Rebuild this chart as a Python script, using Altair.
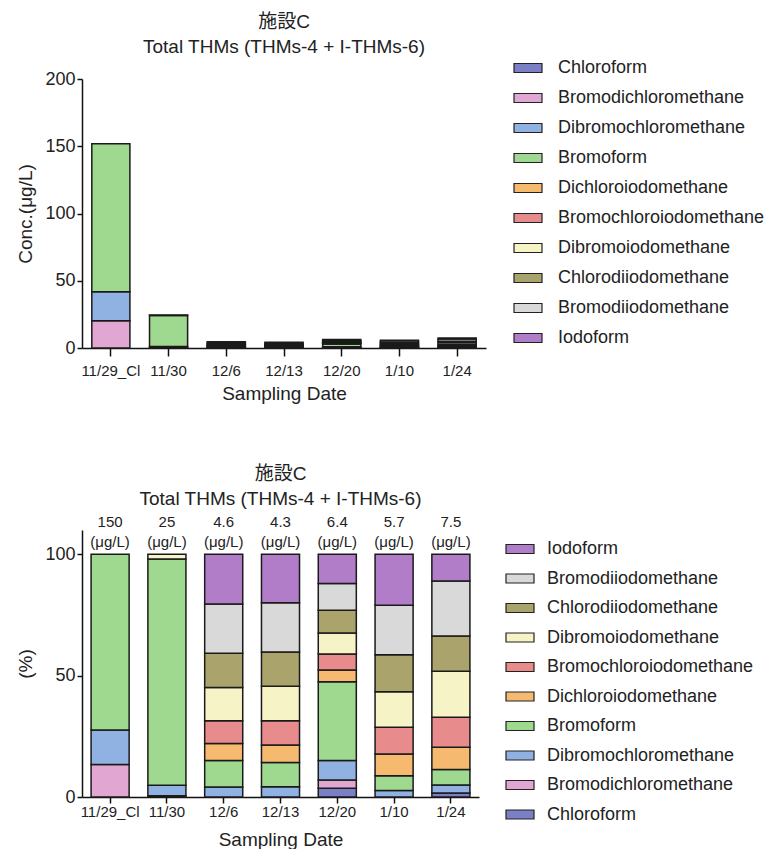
import altair as alt
import pandas as pd

FONT = "'Liberation Sans', Arial, 'Noto Sans CJK JP', sans-serif"

dates = ["11/29_Cl", "11/30", "12/6", "12/13", "12/20", "1/10", "1/24"]
compounds = [
    "Chloroform", "Bromodichloromethane", "Dibromochloromethane", "Bromoform",
    "Dichloroiodomethane", "Bromochloroiodomethane", "Dibromoiodomethane",
    "Chlorodiiodomethane", "Bromodiiodomethane", "Iodoform",
]
colors = ["#7b80c6", "#e2a6d3", "#8fb2e3", "#9fd88f", "#f6b970",
          "#e88b8d", "#f6f3c6", "#aaa46c", "#d9d9d9", "#b27dc8"]

# concentrations (ug/L) per sampling date
chloroform = [0.0, 0.12, 0.0, 0.0, 0.23, 0.0, 0.12]
bromodichloromethane = [20.3, 0.0, 0.0, 0.0, 0.22, 0.0, 0.0]
dibromochloromethane = [21.6, 1.08, 0.19, 0.18, 0.51, 0.15, 0.25]
bromoform = [110.0, 22.9, 0.50, 0.43, 2.07, 0.35, 0.48]
dichloroiodomethane = [0.0, 0.0, 0.32, 0.31, 0.31, 0.51, 0.69]
bromochloroiodomethane = [0.0, 0.0, 0.43, 0.43, 0.42, 0.63, 0.93]
dibromoiodomethane = [0.0, 0.47, 0.63, 0.61, 0.55, 0.83, 1.42]
chlorodiiodomethane = [0.0, 0.0, 0.65, 0.61, 0.60, 0.87, 1.09]
bromodiiodomethane = [0.0, 0.0, 0.93, 0.87, 0.70, 1.16, 1.70]
iodoform = [0.0, 0.0, 0.94, 0.86, 0.77, 1.20, 0.83]

total_labels = ["150", "25", "4.6", "4.3", "6.4", "5.7", "7.5"]

series = [chloroform, bromodichloromethane, dibromochloromethane, bromoform,
          dichloroiodomethane, bromochloroiodomethane, dibromoiodomethane,
          chlorodiiodomethane, bromodiiodomethane, iodoform]

rows = []
for ci, (name, vals) in enumerate(zip(compounds, series)):
    for d, v in zip(dates, vals):
        if v > 0:
            rows.append({"date": d, "compound": name, "conc": v, "ord": ci})
df = pd.DataFrame(rows)

lab_df = pd.DataFrame({"date": dates,
                       "label": [t + "\n(\u03bcg/L)" for t in total_labels]})

SYM = "M-1.4,-0.45H1.4V0.45H-1.4Z"
title_lines = ["\u65bd\u8a2dC", "Total THMs (THMs-4 + I-THMs-6)"]


def legend(x, y, row_pad, label_off):
    return alt.Legend(
        title=None, orient="none", legendX=x, legendY=y,
        symbolType=SYM, symbolSize=400, symbolStrokeColor="#222",
        symbolStrokeWidth=1.2, symbolOpacity=1,
        labelFontSize=18, labelFont=FONT, labelColor="#222",
        rowPadding=row_pad, labelOffset=label_off, padding=0, labelLimit=400,
    )


# ---------- top chart ----------
top_bars = alt.Chart(df).mark_bar(stroke="#1a1a1a", strokeWidth=1.5).encode(
    x=alt.X("date:N", sort=dates,
            scale=alt.Scale(paddingInner=0.34, paddingOuter=0.17),
            axis=alt.Axis(title="Sampling Date", labelAngle=0, labelFontSize=15,
                          titleFontSize=19, titlePadding=6, labelPadding=7,
                          tickSize=8, grid=False)),
    y=alt.Y("conc:Q", stack="zero",
            scale=alt.Scale(domain=[0, 200], nice=False),
            axis=alt.Axis(values=[0, 50, 100, 150, 200], title="Conc.(\u03bcg/L)",
                          labelFontSize=18, titleFontSize=19, titlePadding=9,
                          grid=False)),
    color=alt.Color("compound:N",
                    scale=alt.Scale(domain=compounds, range=colors),
                    legend=legend(435, -22, 10, 19)),
    order=alt.Order("ord:Q", sort="ascending"),
)
top = top_bars.properties(
    width=404, height=269,
    title=alt.TitleParams(text=title_lines, fontSize=19, font=FONT,
                          fontWeight="normal", lineHeight=25, anchor="middle",
                          frame="group", offset=0, color="#222"),
)

# ---------- bottom chart ----------
bot_bars = alt.Chart(df).mark_bar(stroke="#1a1a1a", strokeWidth=1.5).encode(
    x=alt.X("date:N", sort=dates,
            scale=alt.Scale(paddingInner=0.33, paddingOuter=0.16),
            axis=alt.Axis(title="Sampling Date", labelAngle=0, labelFontSize=15,
                          titleFontSize=19, titlePadding=11, labelPadding=1,
                          tickSize=6, grid=False)),
    y=alt.Y("conc:Q", stack="normalize",
            scale=alt.Scale(domain=[0, 1.1], nice=False),
            axis=alt.Axis(values=[0, 0.5, 1.0], labelExpr="format(datum.value*100, 'd')",
                          title="(%)", labelFontSize=18, titleFontSize=19,
                          titlePadding=9, grid=False)),
    color=alt.Color("compound:N",
                    scale=alt.Scale(domain=compounds[::-1], range=colors[::-1]),
                    legend=legend(427, 8, 9.5, 16)),
    order=alt.Order("ord:Q", sort="ascending"),
)
bot_text = alt.Chart(lab_df).mark_text(
    lineBreak="\n", baseline="bottom", dy=-24, fontSize=15, lineHeight=20,
    font=FONT, color="#222",
).encode(
    x=alt.X("date:N", sort=dates),
    y=alt.datum(1.0),
    text="label:N",
)
bottom = alt.layer(bot_bars, bot_text).properties(
    width=397, height=267,
    title=alt.TitleParams(text=title_lines, fontSize=19, font=FONT,
                          fontWeight="normal", lineHeight=25, anchor="middle",
                          frame="group", offset=6, color="#222"),
)

chart = alt.vconcat(top, bottom, spacing=62).resolve_scale(
    color="independent", x="independent", y="independent"
).properties(
    padding={"left": 8, "top": 5, "right": 5, "bottom": 5}
).configure(background="white").configure_view(stroke=None).configure_axis(
    domainColor="#111", domainWidth=1.5, tickColor="#111", tickWidth=1.5,
    labelColor="#222", titleColor="#222", labelFont=FONT,
    titleFont=FONT, titleFontWeight="normal", grid=False,
)

chart.save("out.html", embed_options={"renderer": "svg", "actions": False})
